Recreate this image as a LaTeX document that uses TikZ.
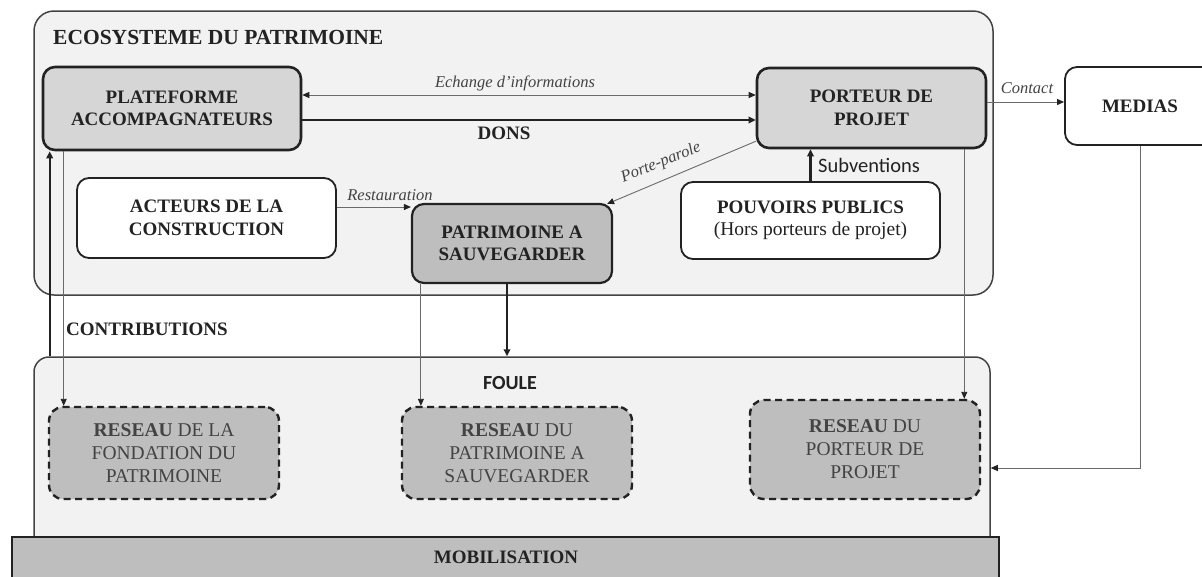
\documentclass[tikz,border=0pt]{standalone}
\usepackage{fontspec}
\setmainfont{Liberation Serif}
\newfontfamily\calib{Carlito}
\usetikzlibrary{arrows.meta,calc}
\definecolor{bglight}{HTML}{F2F2F2}
\definecolor{gmid}{HTML}{D6D6D6}
\definecolor{gdark}{HTML}{BEBEBE}
\definecolor{ink}{HTML}{222222}
\definecolor{thinc}{HTML}{6A6A6A}
\tikzset{
  box/.style={draw=ink, rounded corners=12pt, align=center, text=ink,
    font=\fontsize{19}{22.5}\selectfont\bfseries, inner sep=0pt},
  heavybox/.style={box, line width=2.6pt},
  lightbox/.style={box, line width=1.8pt, fill=white},
  netbox/.style={draw=ink, rounded corners=14pt, align=center, text=ink!85,
    fill=gdark, line width=2.4pt, dash pattern=on 7pt off 4.5pt,
    font=\fontsize{19.5}{23}\selectfont, inner sep=0pt},
  thinarrow/.style={draw=thinc, line width=0.9pt, -{Triangle[length=7pt,width=6pt,color=ink]}},
  thickarrow/.style={draw=ink, line width=2.4pt, -{Triangle[length=7pt,width=6.5pt]}},
  lbl/.style={text=ink, inner sep=0pt},
  ital/.style={lbl, font=\fontsize{16.5}{18}\selectfont\itshape, text=ink!85},
}
\begin{document}
\begin{tikzpicture}[x=1pt,y=-1pt]
\clip (0,0) rectangle (1202,576);
\fill[white] (0,0) rectangle (1202,576);
% ecosystem frame
\node[draw=ink!85, line width=1.5pt, fill=bglight, rounded corners=20pt,
  minimum width=959pt, minimum height=284pt, inner sep=0pt] (eco) at (513.5,153) {};
\node[lbl, anchor=west, font=\fontsize{21.5}{23}\selectfont\bfseries] (title) at (53,37) {ECOSYSTEME DU PATRIMOINE};
% foule frame
\node[draw=ink!85, line width=1.5pt, fill=bglight, rounded corners=15pt,
  minimum width=956pt, minimum height=222pt, inner sep=0pt] (foule) at (512,468) {};
\node[lbl, font=\calib\fontsize{20}{22}\selectfont\bfseries] (foulelbl) at (510,383) {FOULE};
% mobilisation bar
\node[draw=ink, line width=2pt, fill=gdark, minimum width=987pt, minimum height=70pt,
  inner sep=0pt] (mobil) at (505.5,572) {};
\node[lbl, font=\fontsize{19}{22}\selectfont\bfseries] (mobillbl) at (506,557) {MOBILISATION};
% boxes
\node[heavybox, fill=gmid, minimum width=258pt, minimum height=83pt] (plat) at (172,108.5) {PLATEFORME\\ACCOMPAGNATEURS};
\node[heavybox, fill=gmid, minimum width=229pt, minimum height=80pt] (port) at (871.5,108) {PORTEUR DE\\PROJET};
\node[lightbox, minimum width=150pt, minimum height=78pt] (medias) at (1140,106) {MEDIAS};
\node[lightbox, minimum width=259pt, minimum height=80pt] (acteurs) at (206.5,218) {ACTEURS DE LA\\CONSTRUCTION};
\node[box, line width=2.2pt, fill=gdark, minimum width=200pt, minimum height=79pt] (patri) at (512,243.5) {PATRIMOINE A\\SAUVEGARDER};
\node[lightbox, minimum width=259pt, minimum height=77pt] (pouv) at (810.5,220.5) {POUVOIRS PUBLICS\\{\normalfont\fontsize{19.5}{22.5}\selectfont(Hors porteurs de projet)}};
\node[netbox, minimum width=230pt, minimum height=92pt] (r1) at (164,453) {\textbf{RESEAU} DE LA\\FONDATION DU\\PATRIMOINE};
\node[netbox, minimum width=230pt, minimum height=92pt] (r2) at (517,453) {\textbf{RESEAU} DU\\PATRIMOINE A\\SAUVEGARDER};
\node[netbox, minimum width=230pt, minimum height=99pt] (r3) at (865,449.5) {\textbf{RESEAU} DU\\PORTEUR DE\\PROJET};
% connectors
\draw[thinarrow, {Triangle[length=7pt,width=6pt,color=ink]}-{Triangle[length=7pt,width=6pt,color=ink]}]
  ([yshift=13.5pt]plat.east) -- ([yshift=13.5pt]plat.east -| port.west);
\node[ital] (echlbl) at (515,83) {Echange d'informations};
\draw[thickarrow] ([yshift=-11.5pt]plat.east) -- ([yshift=-11.5pt]plat.east -| port.west);
\node[lbl, font=\fontsize{19}{22}\selectfont\bfseries] (donslbl) at (504,133) {DONS};
\draw[thinarrow] ([yshift=6pt]port.east) -- ([yshift=6pt]port.east -| medias.west);
\node[ital] (contlbl) at (1027,88) {Contact};
\draw[thinarrow] ([yshift=8pt]port.south west) -- ([xshift=-6pt,yshift=-1pt]patri.north east);
\node[ital, rotate=22] (porlbl) at (661,163) {Porte-parole};
\draw[thickarrow] (pouv.north) -- (pouv.north |- port.south);
\node[lbl, anchor=west, font=\calib\fontsize{20.5}{22}\selectfont] (sublbl) at (818,165) {Subventions};
\draw[thinarrow] ([yshift=11pt]acteurs.east) -- ([yshift=11pt]acteurs.east -| patri.west);
\node[ital] (restlbl) at (390,195) {Restauration};
\draw[thickarrow] ([xshift=8pt]plat.south west |- foule.north) -- ([xshift=8pt]plat.south west);
\node[lbl, anchor=west, font=\fontsize{19}{22}\selectfont\bfseries] (contriblbl) at (66,329) {CONTRIBUTIONS};
\draw[thinarrow] ([xshift=22pt]plat.south west) -- ([xshift=22pt]plat.south west |- r1.north);
\draw[thinarrow] ([xshift=10pt]patri.south west) -- ([xshift=10pt]patri.south west |- r2.north);
\draw[thickarrow] ([xshift=-5pt]patri.south) -- ([xshift=-5pt]patri.south |- foule.north);
\draw[thinarrow] ([xshift=-23pt]port.south east) -- ([xshift=-23pt]port.south east |- r3.north);
\draw[thinarrow] (medias.south) |- (foule.east);
\end{tikzpicture}
\end{document}
